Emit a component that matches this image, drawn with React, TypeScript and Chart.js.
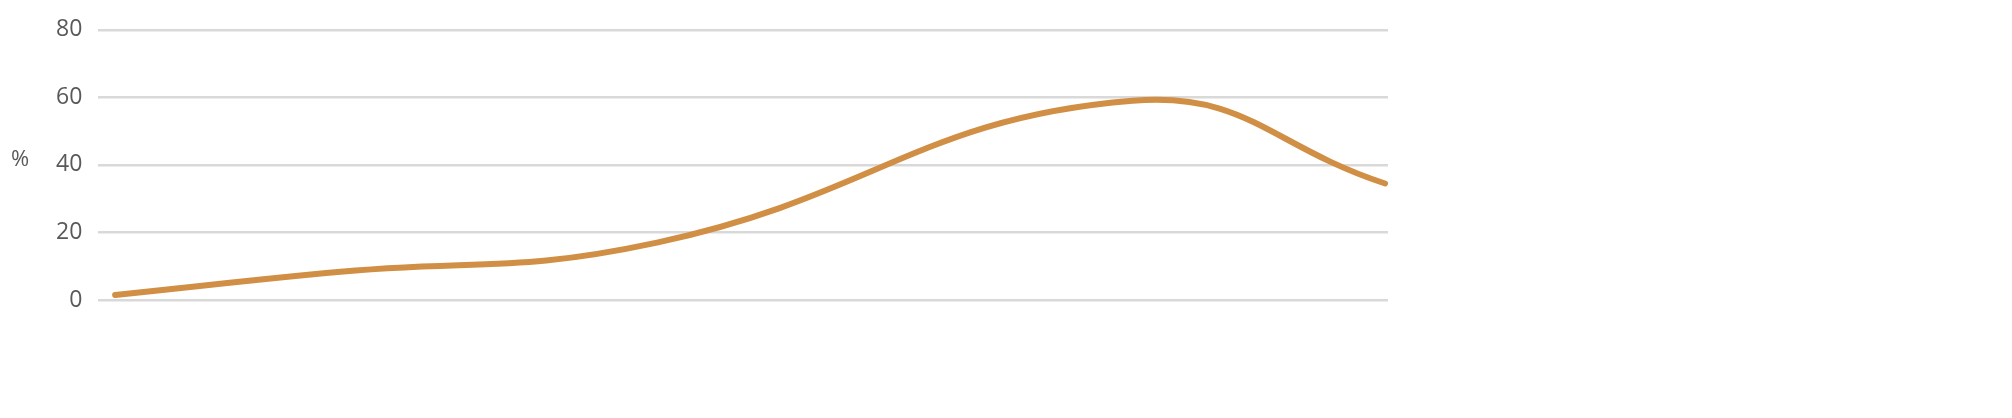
import React, { useEffect, useRef } from "react";
import { Chart, registerables } from "chart.js";
Chart.register(...registerables);

const xPositions = [0, 213, 547, 1027, 1282];
const values = [1.5, 8, 17, 59, 34.5];
const yTicks = [0, 20, 40, 60, 80];

export default function App() {
  const ref = useRef<HTMLCanvasElement>(null);
  useEffect(() => {
    const pctPlugin = {
      id: "pct",
      afterDraw(c: any) {
        const ctx = c.ctx;
        ctx.save();
        ctx.fillStyle = "#595959";
        ctx.font = "22px 'Open Sans', sans-serif";
        ctx.textAlign = "center";
        ctx.textBaseline = "middle";
        ctx.fillText("%", 20, 160);
        ctx.restore();
      },
    };
    const chart = new Chart(ref.current!, {
      type: "line",
      data: {
        datasets: [
          {
            data: xPositions.map((x, i) => ({ x, y: values[i] })),
            borderColor: "#D08F45",
            borderWidth: 6,
            borderCapStyle: "round",
            pointRadius: 0,
            tension: 0.45,
            fill: false,
          },
        ],
      },
      options: {
        animation: false,
        responsive: false,
        layout: { padding: { left: 40, right: 624, top: 14, bottom: 118 } },
        plugins: { legend: { display: false }, tooltip: { enabled: false } },
        scales: {
          x: { type: "linear", min: -17, max: 1268 + 17, display: false },
          y: {
            min: 0,
            max: 80,
            afterBuildTicks: (s: any) => { s.ticks = yTicks.map((v) => ({ value: v })); },
            border: { display: false },
            grid: { color: "#D9D9D9", lineWidth: 2.5, drawTicks: false },
            ticks: { color: "#595959", font: { size: 23, family: "'Open Sans', sans-serif" }, padding: 16 },
          },
        },
      },
      plugins: [pctPlugin],
    });
    return () => chart.destroy();
  }, []);
  return (
    <div style={{ position: "fixed", left: 0, top: 0 }}>
      <canvas ref={ref} width={2012} height={418} style={{ width: 2012, height: 418 }} />
    </div>
  );
}
